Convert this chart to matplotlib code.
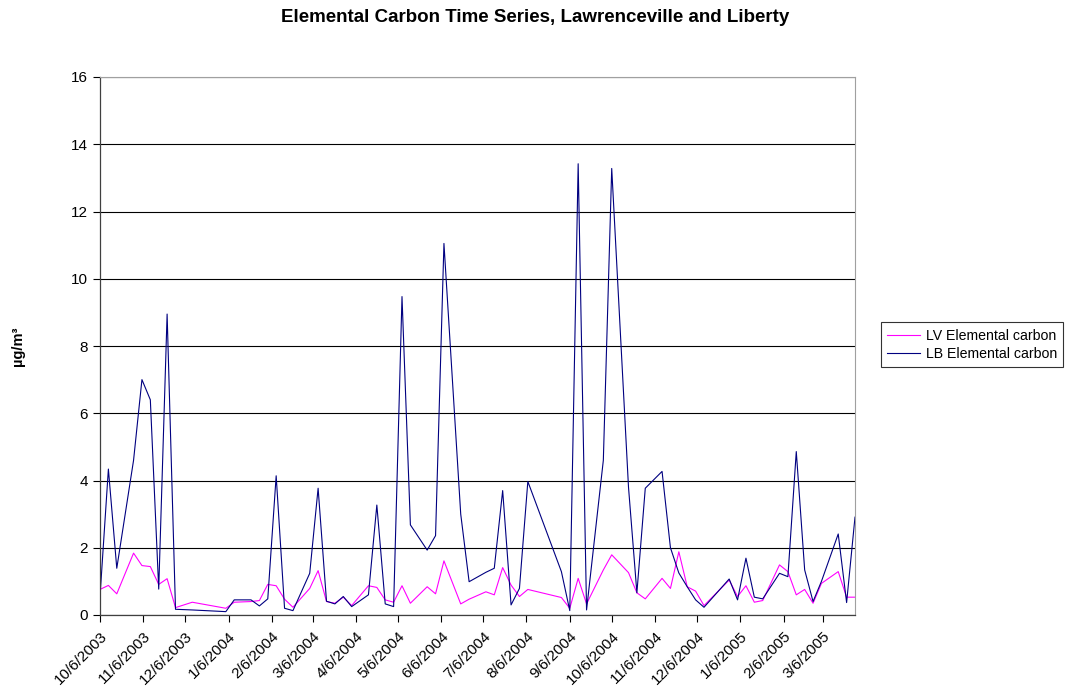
import matplotlib
matplotlib.use("Agg")
import matplotlib.pyplot as plt
import pandas as pd

plt.rcParams["font.family"] = ["Liberation Sans", "DejaVu Sans"]

# sampling days, counted from 10/6/2003 (one-in-six-day schedule with gaps)
day_offset = [0, 6, 12, 24, 30, 36, 42, 48, 54, 66,
              90, 96, 108, 114, 120, 126, 132, 138, 150, 156,
              162, 168, 174, 180, 192, 198, 204, 210, 216, 222,
              234, 240, 246, 258, 264, 276, 282, 288, 294, 300,
              306, 330, 336, 342, 348, 360, 366, 378, 384, 390,
              402, 408, 414, 420, 426, 432, 450, 456, 462, 468,
              474, 486, 492, 498, 504, 510, 516, 528, 534, 540]

lv_ec = [0.76, 0.88, 0.63, 1.84, 1.47, 1.44, 0.91, 1.08, 0.22, 0.38,
         0.20, 0.38, 0.40, 0.43, 0.91, 0.87, 0.47, 0.23, 0.79, 1.32,
         0.40, 0.35, 0.53, 0.28, 0.87, 0.82, 0.45, 0.38, 0.87, 0.35,
         0.84, 0.63, 1.61, 0.33, 0.47, 0.69, 0.60, 1.41, 0.89, 0.55,
         0.76, 0.52, 0.20, 1.09, 0.33, 1.34, 1.79, 1.26, 0.66, 0.48,
         1.09, 0.79, 1.88, 0.84, 0.71, 0.28, 1.04, 0.55, 0.87, 0.38,
         0.43, 1.49, 1.29, 0.60, 0.76, 0.35, 0.94, 1.29, 0.53, 0.53]

lb_ec = [0.55, 4.34, 1.39, 4.60, 7.00, 6.40, 0.77, 8.95, 0.17, 0.15,
         0.10, 0.45, 0.45, 0.27, 0.48, 4.14, 0.20, 0.13, 1.24, 3.77,
         0.41, 0.33, 0.55, 0.25, 0.60, 3.27, 0.33, 0.25, 9.47, 2.68,
         1.93, 2.36, 11.05, 3.00, 0.99, 1.27, 1.39, 3.70, 0.30, 0.79,
         3.97, 1.29, 0.13, 13.42, 0.15, 4.60, 13.28, 3.80, 0.66, 3.77,
         4.27, 2.00, 1.25, 0.84, 0.45, 0.23, 1.07, 0.45, 1.69, 0.53,
         0.48, 1.24, 1.14, 4.86, 1.34, 0.40, 1.00, 2.41, 0.37, 2.91]

start = pd.Timestamp("2003-10-06")
dates = start + pd.to_timedelta(day_offset, unit="D")

fig = plt.figure(figsize=(10.71, 6.94), dpi=100)
ax = fig.add_axes([100 / 1071, 1 - 615 / 694, 755 / 1071, 538 / 694])

ax.plot(dates, lv_ec, color="#FF00FF", lw=0.8, label="LV Elemental carbon")
ax.plot(dates, lb_ec, color="#000080", lw=0.8, label="LB Elemental carbon")

ax.set_xlim(dates[0], dates[-1])
ax.set_ylim(0, 16)
ax.set_yticks(range(0, 17, 2))
ax.yaxis.grid(True, color="black", lw=0.8)
ax.set_axisbelow(True)

# monthly ticks on the 6th
tick_dates = pd.date_range("2003-10-01", "2005-03-01", freq="MS") + pd.Timedelta(days=5)
ax.set_xticks(tick_dates)
ax.set_xticklabels([f"{d.month}/{d.day}/{d.year}" for d in tick_dates],
                   rotation=45, ha="right", rotation_mode="anchor", fontsize=11)
ax.tick_params(axis="x", direction="out", length=5, width=0.8, pad=5)
ax.tick_params(axis="y", direction="out", length=5, width=0.8, labelsize=11)

for side in ("top", "right"):
    ax.spines[side].set_color("#a0a0a0")
    ax.spines[side].set_linewidth(0.8)
for side in ("left", "bottom"):
    ax.spines[side].set_color("#404040")
    ax.spines[side].set_linewidth(0.9)

fig.text(18 / 1071, 1 - 346 / 694, "µg/m³", rotation=90, ha="center", va="center",
         fontsize=10.5, fontweight="bold")

fig.text(0.5, 1 - 18 / 694, "Elemental Carbon Time Series, Lawrenceville and Liberty",
         ha="center", va="center", fontsize=13.5, fontweight="bold")

leg = fig.legend(loc="center left", bbox_to_anchor=(881 / 1071, 1 - 345 / 694),
                 frameon=True, fancybox=False, fontsize=10.2, handlelength=2.3,
                 borderpad=0.45, labelspacing=0.3, handletextpad=0.4, borderaxespad=0)
leg.get_frame().set_edgecolor("black")
leg.get_frame().set_linewidth(0.8)

fig.savefig("out.png", dpi=100)
